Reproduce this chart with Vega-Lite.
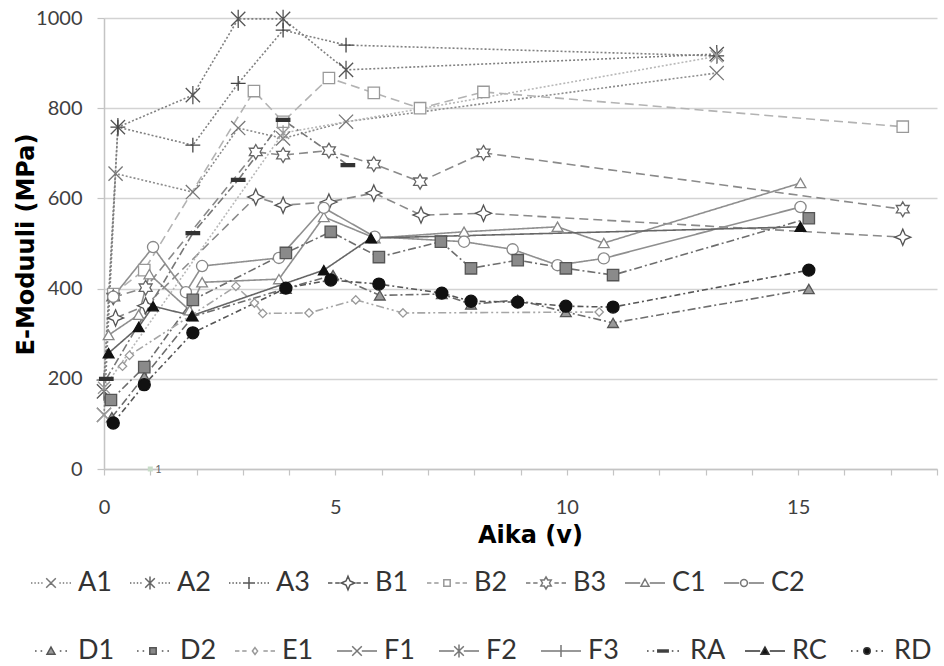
{
  "$schema": "https://vega.github.io/schema/vega-lite/v6.json",
  "width": 833,
  "height": 451,
  "autosize": {"type": "none"},
  "padding": {"left": 104, "top": 18, "right": 7, "bottom": 197},
  "background": "white",
  "config": {"view": {"stroke": null}, "font": "Lato"},
  "data": {"values": [
    {"s":"A1","x":0,"y":120},{"s":"A1","x":0.25,"y":655},{"s":"A1","x":1.92,"y":614},{"s":"A1","x":2.9,"y":756},{"s":"A1","x":3.87,"y":733},{"s":"A1","x":5.23,"y":770},{"s":"A1","x":13.24,"y":878},
    {"s":"A2","x":0,"y":172},{"s":"A2","x":0.3,"y":758},{"s":"A2","x":1.92,"y":829},{"s":"A2","x":2.9,"y":998},{"s":"A2","x":3.87,"y":998},{"s":"A2","x":5.23,"y":885},{"s":"A2","x":13.24,"y":920},
    {"s":"A3","x":0,"y":197},{"s":"A3","x":0.3,"y":758},{"s":"A3","x":1.92,"y":718},{"s":"A3","x":2.9,"y":855},{"s":"A3","x":3.87,"y":973},{"s":"A3","x":5.23,"y":940},{"s":"A3","x":13.24,"y":916},
    {"s":"B1","x":0.25,"y":335},{"s":"B1","x":0.9,"y":362},{"s":"B1","x":3.28,"y":603},{"s":"B1","x":3.87,"y":585},{"s":"B1","x":4.86,"y":592},{"s":"B1","x":5.83,"y":612},{"s":"B1","x":6.85,"y":563},{"s":"B1","x":8.2,"y":567},{"s":"B1","x":17.26,"y":514},
    {"s":"B2","x":0.2,"y":388},{"s":"B2","x":0.87,"y":441},{"s":"B2","x":3.24,"y":838},{"s":"B2","x":3.87,"y":770},{"s":"B2","x":4.86,"y":867},{"s":"B2","x":5.83,"y":834},{"s":"B2","x":6.83,"y":800},{"s":"B2","x":8.2,"y":836},{"s":"B2","x":17.26,"y":759},
    {"s":"B3","x":0.2,"y":381},{"s":"B3","x":0.9,"y":402},{"s":"B3","x":3.28,"y":703},{"s":"B3","x":3.87,"y":696},{"s":"B3","x":4.86,"y":706},{"s":"B3","x":5.83,"y":676},{"s":"B3","x":6.83,"y":637},{"s":"B3","x":8.2,"y":701},{"s":"B3","x":17.26,"y":576},
    {"s":"C1","x":0.1,"y":297},{"s":"C1","x":0.75,"y":342},{"s":"C1","x":0.98,"y":432},{"s":"C1","x":1.85,"y":352},{"s":"C1","x":2.12,"y":414},{"s":"C1","x":3.78,"y":421},{"s":"C1","x":4.75,"y":559},{"s":"C1","x":5.85,"y":512},{"s":"C1","x":7.78,"y":526},{"s":"C1","x":9.8,"y":537},{"s":"C1","x":10.8,"y":501},{"s":"C1","x":15.05,"y":634},
    {"s":"C2","x":0.2,"y":382},{"s":"C2","x":1.06,"y":492},{"s":"C2","x":1.77,"y":392},{"s":"C2","x":2.12,"y":450},{"s":"C2","x":3.78,"y":468},{"s":"C2","x":4.75,"y":579},{"s":"C2","x":5.85,"y":515},{"s":"C2","x":7.78,"y":504},{"s":"C2","x":8.83,"y":487},{"s":"C2","x":9.8,"y":452},{"s":"C2","x":10.8,"y":467},{"s":"C2","x":15.05,"y":581},
    {"s":"D1","x":0.17,"y":115},{"s":"D1","x":0.87,"y":205},{"s":"D1","x":1.92,"y":338},{"s":"D1","x":3.93,"y":400},{"s":"D1","x":4.95,"y":430},{"s":"D1","x":5.96,"y":385},{"s":"D1","x":7.3,"y":388},{"s":"D1","x":7.93,"y":365},{"s":"D1","x":8.94,"y":375},{"s":"D1","x":9.98,"y":348},{"s":"D1","x":11.0,"y":324},{"s":"D1","x":15.23,"y":399},
    {"s":"D2","x":0.15,"y":153},{"s":"D2","x":0.87,"y":226},{"s":"D2","x":1.92,"y":375},{"s":"D2","x":3.93,"y":479},{"s":"D2","x":4.9,"y":526},{"s":"D2","x":5.94,"y":470},{"s":"D2","x":7.28,"y":504},{"s":"D2","x":7.93,"y":445},{"s":"D2","x":8.94,"y":463},{"s":"D2","x":9.98,"y":445},{"s":"D2","x":11.0,"y":430},{"s":"D2","x":15.23,"y":556},
    {"s":"E1","x":0.4,"y":228},{"s":"E1","x":0.55,"y":252},{"s":"E1","x":2.85,"y":405},{"s":"E1","x":3.25,"y":368},{"s":"E1","x":3.43,"y":345},{"s":"E1","x":4.43,"y":346},{"s":"E1","x":5.44,"y":375},{"s":"E1","x":6.46,"y":346},{"s":"E1","x":10.7,"y":348},
    {"s":"F1","x":0,"y":120},
    {"s":"F2","x":0,"y":180},{"s":"F2","x":3.87,"y":745},{"s":"F2","x":13.24,"y":915},
    {"s":"F3","x":0,"y":197},
    {"s":"RA","x":0.05,"y":200},{"s":"RA","x":1.92,"y":523},{"s":"RA","x":2.9,"y":641},{"s":"RA","x":3.87,"y":774},{"s":"RA","x":5.27,"y":674},
    {"s":"RC","x":0.1,"y":257},{"s":"RC","x":0.75,"y":315},{"s":"RC","x":1.06,"y":361},{"s":"RC","x":1.9,"y":340},{"s":"RC","x":4.75,"y":441},{"s":"RC","x":5.77,"y":512},{"s":"RC","x":15.05,"y":537},
    {"s":"RD","x":0.2,"y":102},{"s":"RD","x":0.87,"y":187},{"s":"RD","x":1.92,"y":302},{"s":"RD","x":3.93,"y":401},{"s":"RD","x":4.9,"y":419},{"s":"RD","x":5.94,"y":410},{"s":"RD","x":7.3,"y":390},{"s":"RD","x":7.93,"y":372},{"s":"RD","x":8.94,"y":370},{"s":"RD","x":9.98,"y":361},{"s":"RD","x":11.0,"y":359},{"s":"RD","x":15.23,"y":441}
  ]},
  "encoding": {
    "x": {"field": "x", "type": "quantitative",
      "scale": {"domain": [0, 18], "nice": false, "zero": false},
      "axis": {"title": "Aika (v)", "values": [0,1,2,3,4,5,6,7,8,9,10,11,12,13,14,15,16,17,18],
        "labelExpr": "datum.value % 5 === 0 ? datum.label : ''",
        "grid": false, "domainColor": "#c4c4c4", "domainWidth": 1.5, "tickColor": "#c4c4c4", "tickSize": 6, "tickWidth": 1.2,
        "labelFont": "Lato", "labelFontSize": 20, "labelColor": "#404040", "labelPadding": 22, "labelFlush": false, "labelOverlap": false,
        "titleFont": "DejaVu Sans", "titleFontSize": 24, "titleFontWeight": "bold", "titleColor": "#000000",
        "titleX": 426, "titleY": 66, "titleAlign": "center", "titleBaseline": "middle"}},
    "y": {"field": "y", "type": "quantitative",
      "scale": {"domain": [0, 1000], "nice": false},
      "axis": {"title": "E-Moduuli (MPa)", "values": [0,200,400,600,800,1000], "format": "d",
        "grid": true, "gridColor": "#d3d3d3", "gridWidth": 1.5,
        "domainColor": "#c4c4c4", "domainWidth": 1.5, "tickColor": "#c4c4c4", "tickSize": 7, "tickWidth": 1.2,
        "labelFont": "Lato", "labelFontSize": 20, "labelColor": "#404040", "labelPadding": 15,
        "titleFont": "DejaVu Sans", "titleFontSize": 24, "titleFontWeight": "bold", "titleColor": "#000000",
        "titleAngle": -90, "titleX": -78, "titleY": 226, "titleAlign": "center", "titleBaseline": "middle"}}
  },
  "layer": [
    {
      "mark": {"type": "line", "strokeWidth": 1.6},
      "encoding": {
        "stroke": {"field": "s", "type": "nominal", "legend": null,
          "scale": {"domain": ["A1","A2","A3","B1","B2","B3","C1","C2","D1","D2","E1","F1","F2","F3","RA","RC","RD"],
            "range": ["#8c8c8c","#808080","#808080","#8a8a8a","#b3b3b3","#8a8a8a","#8f8f8f","#8f8f8f","#6e6e6e","#6e6e6e","#a6a6a6","#b0b0b0","#b8b8b8","#b0b0b0","#777777","#666666","#555555"]}},
        "strokeDash": {"field": "s", "type": "nominal", "legend": null,
          "scale": {"domain": ["A1","A2","A3","B1","B2","B3","C1","C2","D1","D2","E1","F1","F2","F3","RA","RC","RD"],
            "range": [[2,2],[2,2],[2,2],[9,5],[9,5],[9,5],[1,0],[1,0],[8,3,2,3],[8,3,2,3],[8,3,2,3,2,3],[2,2],[2,2],[2,2],[8,3,2,3],[1,0],[6,3,2,3]]}}
      }
    },
    {
      "mark": {"type": "point", "filled": true, "opacity": 1, "strokeWidth": 1.3},
      "encoding": {
        "shape": {"field": "s", "type": "nominal", "legend": null,
          "scale": {"domain": ["A1","A2","A3","B1","B2","B3","C1","C2","D1","D2","E1","F1","F2","F3","RA","RC","RD"],
            "range": [
              "M-1,-1L1,1M-1,1L1,-1",
              "M-0.85,-0.85L0.85,0.85M-0.85,0.85L0.85,-0.85M0,-1.1L0,1.1",
              "M-1,0L1,0M0,-1L0,1",
              "M0,-1L0.3,-0.3L1,0L0.3,0.3L0,1L-0.3,0.3L-1,0L-0.3,-0.3Z",
              "square",
              "M0,-1L0.29,-0.5L0.87,-0.5L0.58,0L0.87,0.5L0.29,0.5L0,1L-0.29,0.5L-0.87,0.5L-0.58,0L-0.87,-0.5L-0.29,-0.5Z",
              "triangle-up",
              "circle",
              "triangle-up",
              "square",
              "diamond",
              "M-1,-1L1,1M-1,1L1,-1",
              "M-0.85,-0.85L0.85,0.85M-0.85,0.85L0.85,-0.85M0,-1.1L0,1.1",
              "M-1,0L1,0M0,-1L0,1",
              "M-1,-0.22L1,-0.22L1,0.22L-1,0.22Z",
              "triangle-up",
              "circle"]}},
        "fill": {"field": "s", "type": "nominal", "legend": null,
          "scale": {"domain": ["A1","A2","A3","B1","B2","B3","C1","C2","D1","D2","E1","F1","F2","F3","RA","RC","RD"],
            "range": ["transparent","transparent","transparent","white","white","white","white","white","#9a9a9a","#8a8a8a","white","transparent","transparent","transparent","#333333","#111111","#111111"]}},
        "stroke": {"field": "s", "type": "nominal", "legend": null,
          "scale": {"domain": ["A1","A2","A3","B1","B2","B3","C1","C2","D1","D2","E1","F1","F2","F3","RA","RC","RD"],
            "range": ["#777777","#555555","#444444","#555555","#999999","#666666","#888888","#888888","#555555","#555555","#999999","#999999","#999999","#999999","#333333","#111111","#111111"]}},
        "size": {"field": "s", "type": "nominal", "legend": null,
          "scale": {"type": "ordinal", "domain": ["A1","A2","A3","B1","B2","B3","C1","C2","D1","D2","E1","F1","F2","F3","RA","RC","RD"],
            "range": [200,280,220,260,130,220,115,125,115,130,70,200,200,200,180,115,145]}}
      }
    },
    {
      "transform": [{"filter": "datum.x < -1"}],
      "mark": {"type": "point", "filled": true, "opacity": 1, "strokeWidth": 1.5},
      "encoding": {
        "shape": {"field": "s", "type": "nominal",
          "scale": {"domain": ["A1","A2","A3","B1","B2","B3","C1","C2"],
            "range": [
              "M-1,0L-0.93,0M-0.83,0L-0.76,0M-0.66,0L-0.59,0M-0.49,0L-0.42,0M-0.24,-0.24L0.24,0.24M-0.24,0.24L0.24,-0.24M0.42,0L0.49,0M0.59,0L0.66,0M0.76,0L0.83,0M0.93,0L1,0",
              "M-1,0L-0.93,0M-0.83,0L-0.76,0M-0.66,0L-0.59,0M-0.49,0L-0.42,0M-0.24,-0.24L0.24,0.24M-0.24,0.24L0.24,-0.24M0,-0.32L0,0.32M0.42,0L0.49,0M0.59,0L0.66,0M0.76,0L0.83,0M0.93,0L1,0",
              "M-1,0L-0.93,0M-0.83,0L-0.76,0M-0.66,0L-0.59,0M-0.49,0L-0.42,0M-0.3,0L0.3,0M0,-0.3L0,0.3M0.42,0L0.49,0M0.59,0L0.66,0M0.76,0L0.83,0M0.93,0L1,0",
              "M-1,0L-0.78,0M-0.64,0L-0.42,0M0,-0.34L0.1,-0.1L0.34,0L0.1,0.1L0,0.34L-0.1,0.1L-0.34,0L-0.1,-0.1ZM0.42,0L0.64,0M0.78,0L1,0",
              "M-1,0L-0.78,0M-0.64,0L-0.42,0M-0.16,-0.16L0.16,-0.16L0.16,0.16L-0.16,0.16ZM0.42,0L0.64,0M0.78,0L1,0",
              "M-1,0L-0.78,0M-0.64,0L-0.42,0M0,-0.3L0.087,-0.15L0.26,-0.15L0.174,0L0.26,0.15L0.087,0.15L0,0.3L-0.087,0.15L-0.26,0.15L-0.174,0L-0.26,-0.15L-0.087,-0.15ZM0.42,0L0.64,0M0.78,0L1,0",
              "M-1,0L-0.24,0M0,-0.2L0.2,0.16L-0.2,0.16ZM0.24,0L1,0",
              "M-1,0L-0.24,0M-0.17,0A0.17,0.17,0,1,0,0.17,0A0.17,0.17,0,1,0,-0.17,0ZM0.24,0L1,0"]},
          "legend": {"orient": "none", "legendX": -74, "legendY": 544, "direction": "horizontal", "columns": 8, "title": null, "symbolSize": 1600, "symbolStrokeWidth": 1.5, "labelFont": "Lato", "labelFontSize": 27, "labelColor": "#333333", "columnPadding": 15, "gridAlign": "all", "labelOffset": 6}},
        "fill": {"field": "s", "type": "nominal",
          "scale": {"domain": ["A1","A2","A3","B1","B2","B3","C1","C2"],
            "range": ["transparent","transparent","transparent","white","white","white","white","white"]},
          "legend": {"orient": "none", "legendX": -74, "legendY": 544, "direction": "horizontal", "columns": 8, "title": null, "symbolSize": 1600, "symbolStrokeWidth": 1.5, "labelFont": "Lato", "labelFontSize": 27, "labelColor": "#333333", "columnPadding": 15, "gridAlign": "all", "labelOffset": 6}},
        "stroke": {"field": "s", "type": "nominal",
          "scale": {"domain": ["A1","A2","A3","B1","B2","B3","C1","C2"],
            "range": ["#777777","#666666","#555555","#555555","#999999","#777777","#777777","#777777"]},
          "legend": {"orient": "none", "legendX": -74, "legendY": 544, "direction": "horizontal", "columns": 8, "title": null, "symbolSize": 1600, "symbolStrokeWidth": 1.5, "labelFont": "Lato", "labelFontSize": 27, "labelColor": "#333333", "columnPadding": 15, "gridAlign": "all", "labelOffset": 6}}
      }
    },
    {
      "transform": [{"filter": "datum.x < -1"}],
      "mark": {"type": "point", "filled": true, "opacity": 1, "strokeWidth": 1.5},
      "encoding": {
        "shape": {"field": "s", "type": "nominal",
          "scale": {"domain": ["D1","D2","E1","F1","F2","F3","RA","RC","RD"],
            "range": [
              "M-0.8,0L-0.72,0M-0.52,0L-0.44,0M0,-0.2L0.2,0.16L-0.2,0.16ZM0.44,0L0.52,0M0.72,0L0.8,0",
              "M-0.8,0L-0.72,0M-0.52,0L-0.44,0M-0.16,-0.16L0.16,-0.16L0.16,0.16L-0.16,0.16ZM0.44,0L0.52,0M0.72,0L0.8,0",
              "M-1,0L-0.78,0M-0.64,0L-0.42,0M0,-0.17L0.13,0L0,0.17L-0.13,0ZM0.42,0L0.64,0M0.78,0L1,0",
              "M-1,0L-0.24,0M-0.24,-0.24L0.24,0.24M-0.24,0.24L0.24,-0.24M0.24,0L1,0",
              "M-1,0L-0.24,0M-0.24,-0.24L0.24,0.24M-0.24,0.24L0.24,-0.24M0,-0.32L0,0.32M0.24,0L1,0",
              "M-1,0L-0.3,0M-0.3,0L0.3,0M0,-0.3L0,0.3M0.3,0L1,0",
              "M-0.8,0L-0.72,0M-0.52,0L-0.44,0M-0.26,-0.05L0.26,-0.05L0.26,0.05L-0.26,0.05ZM0.44,0L0.52,0M0.72,0L0.8,0",
              "M-1,0L-0.24,0M0,-0.2L0.2,0.16L-0.2,0.16ZM0.24,0L1,0",
              "M-0.8,0L-0.72,0M-0.52,0L-0.44,0M-0.16,0A0.16,0.16,0,1,0,0.16,0A0.16,0.16,0,1,0,-0.16,0ZM0.44,0L0.52,0M0.72,0L0.8,0"]},
          "legend": {"orient": "none", "legendX": -74, "legendY": 612, "direction": "horizontal", "columns": 9, "title": null, "symbolSize": 1600, "symbolStrokeWidth": 1.5, "labelFont": "Lato", "labelFontSize": 27, "labelColor": "#333333", "columnPadding": 14, "gridAlign": "all", "labelOffset": 6}},
        "fill": {"field": "s", "type": "nominal",
          "scale": {"domain": ["D1","D2","E1","F1","F2","F3","RA","RC","RD"],
            "range": ["#999999","#888888","white","transparent","transparent","transparent","#333333","#111111","#111111"]},
          "legend": {"orient": "none", "legendX": -74, "legendY": 612, "direction": "horizontal", "columns": 9, "title": null, "symbolSize": 1600, "symbolStrokeWidth": 1.5, "labelFont": "Lato", "labelFontSize": 27, "labelColor": "#333333", "columnPadding": 14, "gridAlign": "all", "labelOffset": 6}},
        "stroke": {"field": "s", "type": "nominal",
          "scale": {"domain": ["D1","D2","E1","F1","F2","F3","RA","RC","RD"],
            "range": ["#555555","#555555","#999999","#777777","#777777","#777777","#444444","#333333","#333333"]},
          "legend": {"orient": "none", "legendX": -74, "legendY": 612, "direction": "horizontal", "columns": 9, "title": null, "symbolSize": 1600, "symbolStrokeWidth": 1.5, "labelFont": "Lato", "labelFontSize": 27, "labelColor": "#333333", "columnPadding": 14, "gridAlign": "all", "labelOffset": 6}}
      }
    },
    {
      "data": {"values": [{"x": 1, "y": 0, "t": "1"}]},
      "mark": {"type": "point", "shape": "square", "size": 25, "filled": true, "color": "#c8dcc8", "opacity": 1}
    },
    {
      "data": {"values": [{"x": 1, "y": 0, "t": "1"}]},
      "mark": {"type": "text", "dx": 5, "dy": 1, "fontSize": 11, "color": "#666666", "align": "left", "baseline": "middle"},
      "encoding": {"text": {"field": "t"}}
    }
  ],
  "resolve": {
    "scale": {"shape": "independent", "fill": "independent", "stroke": "independent", "strokeDash": "independent", "size": "independent"},
    "legend": {"shape": "independent", "fill": "independent", "stroke": "independent", "strokeDash": "independent", "size": "independent"}
  }
}
